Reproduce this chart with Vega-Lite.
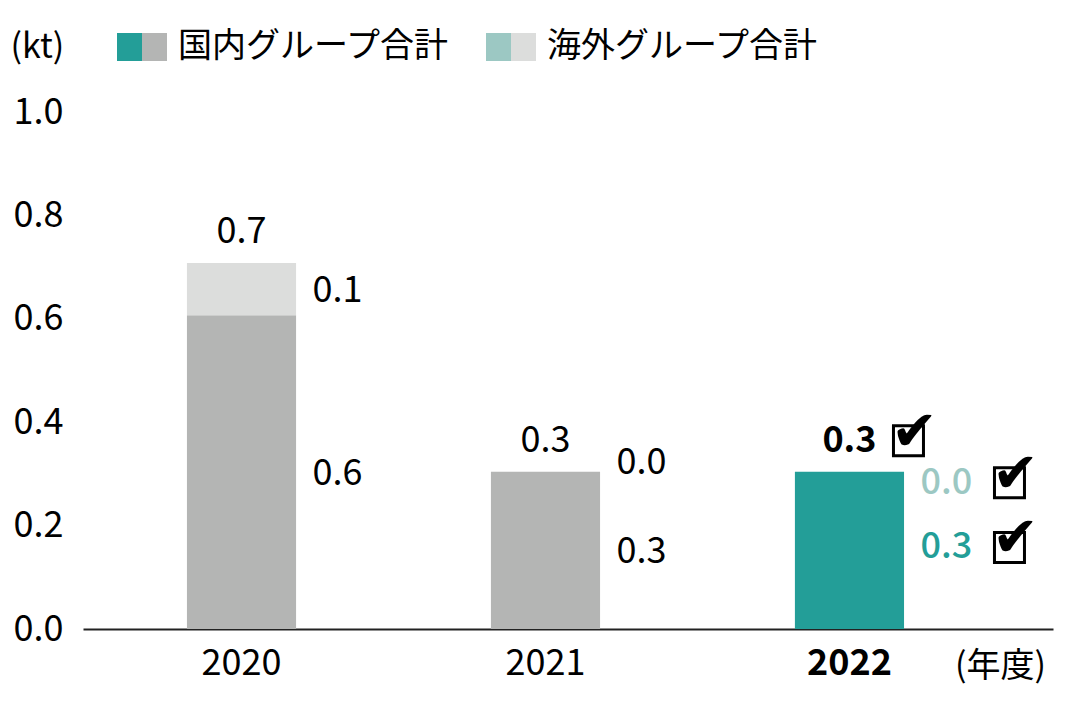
{
  "$schema": "https://vega.github.io/schema/vega-lite/v6.json",
  "width": 970,
  "height": 517,
  "autosize": "none",
  "padding": {"left": 83, "top": 112, "right": 39, "bottom": 79},
  "config": {
    "view": {"stroke": null},
    "font": "Noto Sans CJK JP",
    "text": {"font": "Noto Sans CJK JP", "fontSize": 36, "color": "black", "baseline": "middle"},
    "axisY": {
      "domain": false, "ticks": false, "grid": false,
      "labelFontSize": 36, "labelColor": "black", "labelPadding": 20,
      "titleAngle": 0, "titleX": -73, "titleY": -65, "titleAlign": "left",
      "titleBaseline": "middle", "titleFontSize": 34, "titleFontWeight": "normal", "titleColor": "black"
    },
    "legend": {
      "orient": "none", "legendX": 34, "legendY": -90, "direction": "horizontal",
      "symbolSize": 2500, "labelFontSize": 34, "labelColor": "black", "labelOffset": 11,
      "labelLimit": 500, "columnPadding": 36, "symbolStrokeWidth": 0, "symbolOpacity": 1, "padding": 0
    }
  },
  "data": {
    "values": [
      {"year": "2020", "group": "国内グループ合計", "value": 0.607},
      {"year": "2020", "group": "海外グループ合計", "value": 0.101},
      {"year": "2021", "group": "国内グループ合計", "value": 0.304},
      {"year": "2021", "group": "海外グループ合計", "value": 0.0},
      {"year": "2022", "group": "国内グループ合計", "value": 0.304},
      {"year": "2022", "group": "海外グループ合計", "value": 0.0}
    ]
  },
  "encoding": {
    "x": {
      "field": "year", "type": "ordinal",
      "scale": {"paddingInner": 0.641, "paddingOuter": 0.416, "align": 0.411},
      "axis": {
        "title": "(年度)", "labelAngle": 0, "labelFontSize": 36, "labelColor": "black",
        "labelFontWeight": {"condition": {"test": "datum.value == '2022'", "value": "bold"}, "value": "normal"},
        "ticks": false, "domainColor": "#222222", "domainWidth": 2, "labelPadding": 17,
        "titleX": 917, "titleY": 37, "titleAlign": "center", "titleBaseline": "middle",
        "titleFontSize": 34, "titleFontWeight": "normal", "titleColor": "black"
      }
    }
  },
  "layer": [
    {
      "transform": [{"filter": "datum.year != '2022'"}],
      "mark": {"type": "bar"},
      "encoding": {
        "y": {
          "field": "value", "type": "quantitative", "stack": "zero", "title": "(kt)",
          "scale": {"domain": [0, 1], "nice": false},
          "axis": {"values": [0, 0.2, 0.4, 0.6, 0.8, 1.0], "format": ".1f"}
        },
        "order": {"field": "group", "sort": "ascending"},
        "color": {
          "field": "group", "type": "nominal",
          "scale": {"domain": ["国内グループ合計", "海外グループ合計"], "range": ["#b4b5b4", "#dcdddc"]},
          "legend": {"title": null, "symbolType": "M0,-0.56H1V0.56H0Z"}
        }
      }
    },
    {
      "transform": [
        {"filter": "datum.year == '2022'"},
        {"calculate": "datum.group == '国内グループ合計' ? 'dom' : 'ovs'", "as": "kind"}
      ],
      "mark": {"type": "bar"},
      "encoding": {
        "y": {"field": "value", "type": "quantitative", "stack": "zero", "title": "(kt)"},
        "order": {"field": "kind", "sort": "ascending"},
        "fill": {
          "field": "kind", "type": "nominal",
          "scale": {"domain": ["dom", "ovs"], "range": ["#239e98", "#9cc8c3"]},
          "legend": {
            "title": null, "symbolType": "M-1,-0.56H0V0.56H-1Z", "labelOpacity": 0,
            "labelExpr": "datum.label == 'dom' ? '国内グループ合計' : '海外グループ合計'"
          }
        }
      }
    },
    {
      "transform": [
        {"aggregate": [{"op": "sum", "field": "value", "as": "total"}], "groupby": ["year"]},
        {"filter": "datum.year != '2022'"}
      ],
      "mark": {"type": "text", "dy": -31},
      "encoding": {
        "y": {"field": "total", "type": "quantitative", "title": "(kt)"},
        "text": {"field": "total", "type": "quantitative", "format": ".1f"}
      }
    },
    {
      "transform": [
        {"aggregate": [{"op": "sum", "field": "value", "as": "total"}], "groupby": ["year"]},
        {"filter": "datum.year == '2022'"}
      ],
      "mark": {"type": "text", "dy": -31, "fontWeight": "bold"},
      "encoding": {
        "y": {"field": "total", "type": "quantitative", "title": "(kt)"},
        "text": {"field": "total", "type": "quantitative", "format": ".1f"}
      }
    },
    {
      "transform": [
        {"aggregate": [{"op": "sum", "field": "value", "as": "total"}], "groupby": ["year"]},
        {"filter": "datum.year == '2022'"}
      ],
      "mark": {"type": "point", "shape": "square", "size": 900, "filled": false, "stroke": "black", "strokeWidth": 3, "opacity": 1, "xOffset": 59, "yOffset": -31},
      "encoding": {
        "y": {"field": "total", "type": "quantitative", "title": "(kt)"}
      }
    },
    {
      "transform": [
        {"aggregate": [{"op": "sum", "field": "value", "as": "total"}], "groupby": ["year"]},
        {"filter": "datum.year == '2022'"}
      ],
      "mark": {"type": "text", "dx": 65, "dy": -39, "font": "DejaVu Sans", "fontSize": 56, "fontWeight": "bold"},
      "encoding": {
        "y": {"field": "total", "type": "quantitative", "title": "(kt)"},
        "text": {"value": "✔"}
      }
    },
    {
      "transform": [
        {"stack": "value", "groupby": ["year"], "sort": [{"field": "group", "order": "ascending"}], "as": ["v0", "v1"]},
        {"calculate": "(datum.v0 + datum.v1) / 2", "as": "mid"},
        {"filter": "datum.year != '2022' && datum.value > 0"}
      ],
      "mark": {"type": "text", "align": "left", "dx": 71, "dy": 2},
      "encoding": {
        "y": {"field": "mid", "type": "quantitative", "title": "(kt)"},
        "text": {"field": "value", "type": "quantitative", "format": ".1f"}
      }
    },
    {
      "transform": [
        {"stack": "value", "groupby": ["year"], "sort": [{"field": "group", "order": "ascending"}], "as": ["v0", "v1"]},
        {"calculate": "(datum.v0 + datum.v1) / 2", "as": "mid"},
        {"filter": "datum.year == '2021' && datum.value == 0"}
      ],
      "mark": {"type": "text", "align": "left", "dx": 71, "dy": -9},
      "encoding": {
        "y": {"field": "mid", "type": "quantitative", "title": "(kt)"},
        "text": {"field": "value", "type": "quantitative", "format": ".1f"}
      }
    },
    {
      "transform": [
        {"stack": "value", "groupby": ["year"], "sort": [{"field": "group", "order": "ascending"}], "as": ["v0", "v1"]},
        {"calculate": "(datum.v0 + datum.v1) / 2", "as": "mid"},
        {"filter": "datum.year == '2022' && datum.value > 0"}
      ],
      "mark": {"type": "text", "align": "left", "dx": 71, "dy": -3, "fontWeight": 500, "color": "#239e98"},
      "encoding": {
        "y": {"field": "mid", "type": "quantitative", "title": "(kt)"},
        "text": {"field": "value", "type": "quantitative", "format": ".1f"}
      }
    },
    {
      "transform": [
        {"stack": "value", "groupby": ["year"], "sort": [{"field": "group", "order": "ascending"}], "as": ["v0", "v1"]},
        {"calculate": "(datum.v0 + datum.v1) / 2", "as": "mid"},
        {"filter": "datum.year == '2022' && datum.value > 0"}
      ],
      "mark": {"type": "point", "shape": "square", "size": 900, "filled": false, "stroke": "black", "strokeWidth": 3, "opacity": 1, "xOffset": 160, "yOffset": -3},
      "encoding": {
        "y": {"field": "mid", "type": "quantitative", "title": "(kt)"}
      }
    },
    {
      "transform": [
        {"stack": "value", "groupby": ["year"], "sort": [{"field": "group", "order": "ascending"}], "as": ["v0", "v1"]},
        {"calculate": "(datum.v0 + datum.v1) / 2", "as": "mid"},
        {"filter": "datum.year == '2022' && datum.value > 0"}
      ],
      "mark": {"type": "text", "dx": 166, "dy": -11, "font": "DejaVu Sans", "fontSize": 56, "fontWeight": "bold"},
      "encoding": {
        "y": {"field": "mid", "type": "quantitative", "title": "(kt)"},
        "text": {"value": "✔"}
      }
    },
    {
      "transform": [
        {"stack": "value", "groupby": ["year"], "sort": [{"field": "group", "order": "ascending"}], "as": ["v0", "v1"]},
        {"calculate": "(datum.v0 + datum.v1) / 2", "as": "mid"},
        {"filter": "datum.year == '2022' && datum.value == 0"}
      ],
      "mark": {"type": "text", "align": "left", "dx": 71, "dy": 11, "fontWeight": 500, "color": "#9cc8c3"},
      "encoding": {
        "y": {"field": "mid", "type": "quantitative", "title": "(kt)"},
        "text": {"field": "value", "type": "quantitative", "format": ".1f"}
      }
    },
    {
      "transform": [
        {"stack": "value", "groupby": ["year"], "sort": [{"field": "group", "order": "ascending"}], "as": ["v0", "v1"]},
        {"calculate": "(datum.v0 + datum.v1) / 2", "as": "mid"},
        {"filter": "datum.year == '2022' && datum.value == 0"}
      ],
      "mark": {"type": "point", "shape": "square", "size": 900, "filled": false, "stroke": "black", "strokeWidth": 3, "opacity": 1, "xOffset": 160, "yOffset": 11},
      "encoding": {
        "y": {"field": "mid", "type": "quantitative", "title": "(kt)"}
      }
    },
    {
      "transform": [
        {"stack": "value", "groupby": ["year"], "sort": [{"field": "group", "order": "ascending"}], "as": ["v0", "v1"]},
        {"calculate": "(datum.v0 + datum.v1) / 2", "as": "mid"},
        {"filter": "datum.year == '2022' && datum.value == 0"}
      ],
      "mark": {"type": "text", "dx": 166, "dy": 3, "font": "DejaVu Sans", "fontSize": 56, "fontWeight": "bold"},
      "encoding": {
        "y": {"field": "mid", "type": "quantitative", "title": "(kt)"},
        "text": {"value": "✔"}
      }
    }
  ]
}
